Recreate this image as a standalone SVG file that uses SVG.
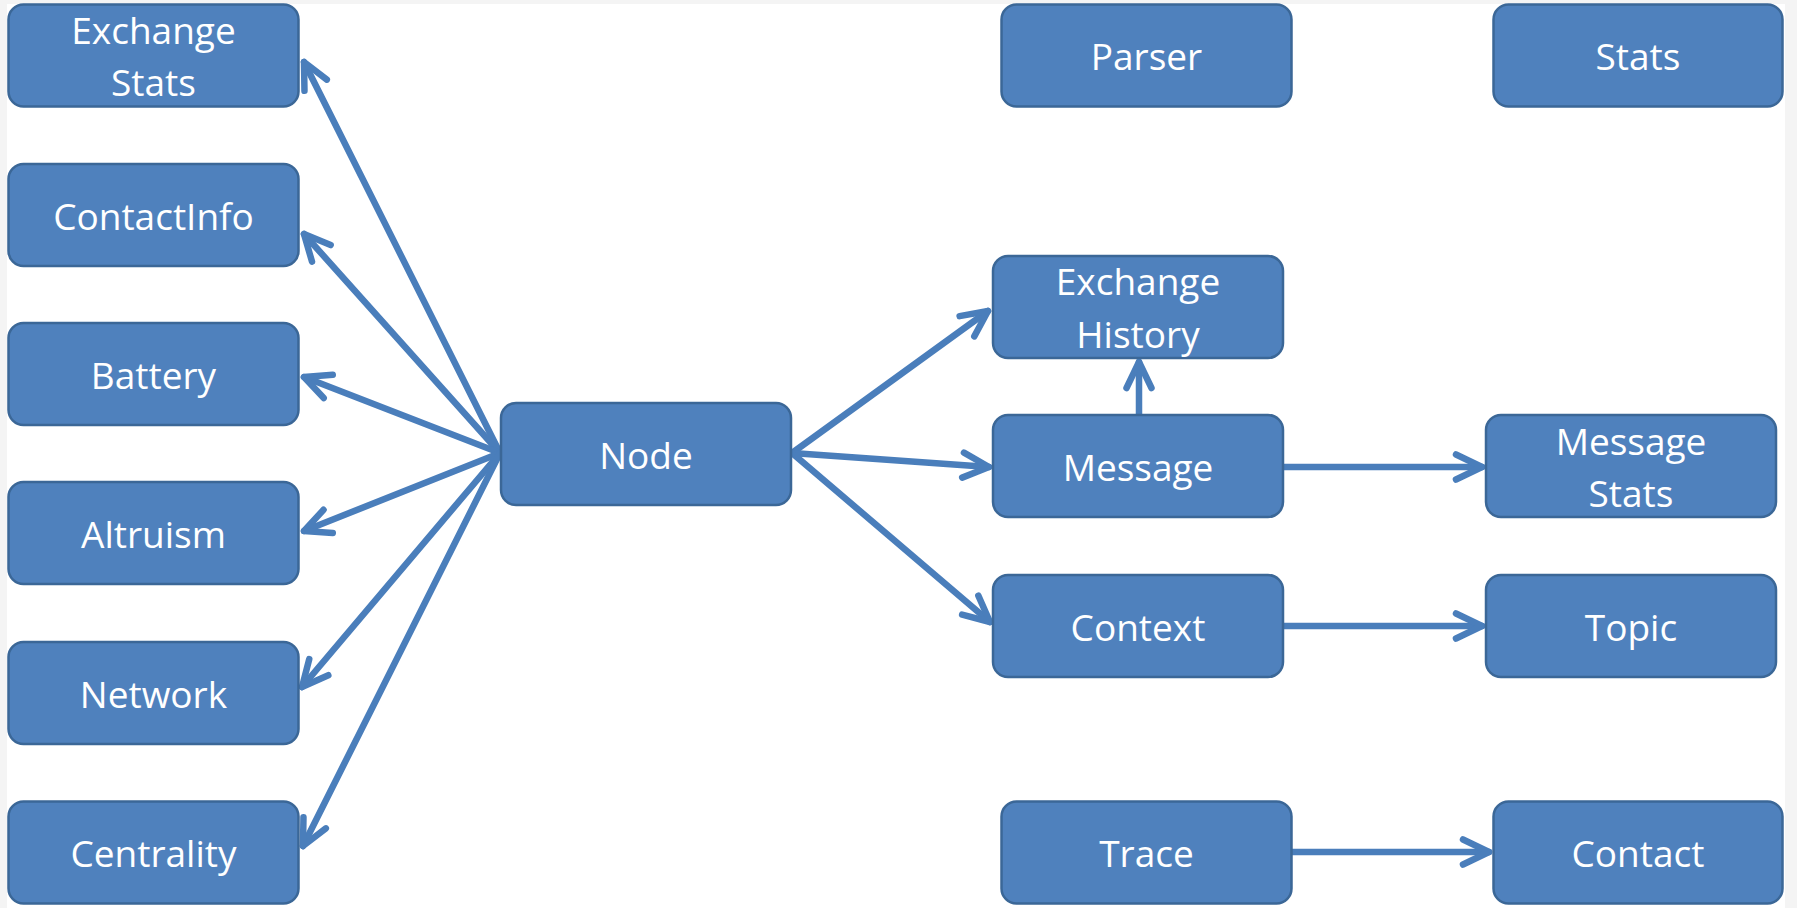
<svg xmlns="http://www.w3.org/2000/svg" width="1797" height="908" viewBox="0 0 1797 908">
  <style>
    .box rect { fill: #4f81bd; stroke: #3b6797; stroke-width: 2.5; }
    .box text { fill: #ffffff; font-family: "Open Sans", "Noto Sans", "Liberation Sans", sans-serif; font-size: 37px; text-anchor: middle; }
    .conn line { stroke: #4a7ebb; stroke-width: 6.5; stroke-linecap: round; marker-end: url(#arrow); }
  </style>
  <defs>
    <marker id="arrow" markerUnits="userSpaceOnUse" viewBox="-40 -20 50 40" refX="0" refY="0" markerWidth="50" markerHeight="40" orient="auto" overflow="visible">
      <path d="M -26 -12.5 L 0 0 L -26 12.5" fill="none" stroke="#4a7ebb" stroke-width="6.5" stroke-linecap="round" stroke-linejoin="round"/>
    </marker>
  </defs>

  <!-- page -->
  <rect x="0" y="0" width="1797" height="908" fill="#f4f4f4"/>
  <rect x="7" y="4" width="1778" height="904" fill="#ffffff"/>

  <!-- connectors -->
  <g id="connectors" class="conn">
    <line x1="500" y1="453" x2="304" y2="62"/>
    <line x1="500" y1="453" x2="304" y2="234"/>
    <line x1="500" y1="453" x2="304" y2="377"/>
    <line x1="500" y1="453" x2="304" y2="531"/>
    <line x1="500" y1="453" x2="302" y2="687"/>
    <line x1="500" y1="453" x2="303" y2="846"/>
    <line x1="792" y1="453" x2="988" y2="311"/>
    <line x1="792" y1="453" x2="989" y2="467"/>
    <line x1="792" y1="453" x2="990" y2="622"/>
    <line x1="1139" y1="415" x2="1139" y2="362"/>
    <line x1="1283" y1="467" x2="1482" y2="467"/>
    <line x1="1283" y1="626" x2="1482" y2="626"/>
    <line x1="1292" y1="852" x2="1489" y2="852"/>
  </g>

  <!-- nodes -->
  <g id="exchange-stats" class="box">
    <rect x="8.5" y="4.5" width="290" height="102" rx="15"/>
    <text x="153.5" y="44">Exchange</text>
    <text x="153.5" y="96">Stats</text>
  </g>
  <g id="contact-info" class="box">
    <rect x="8.5" y="164" width="290" height="102" rx="15"/>
    <text x="153.5" y="230">ContactInfo</text>
  </g>
  <g id="battery" class="box">
    <rect x="8.5" y="323" width="290" height="102" rx="15"/>
    <text x="153.5" y="389">Battery</text>
  </g>
  <g id="altruism" class="box">
    <rect x="8.5" y="482" width="290" height="102" rx="15"/>
    <text x="153.5" y="548">Altruism</text>
  </g>
  <g id="network" class="box">
    <rect x="8.5" y="642" width="290" height="102" rx="15"/>
    <text x="153.5" y="708">Network</text>
  </g>
  <g id="centrality" class="box">
    <rect x="8.5" y="801.5" width="290" height="102" rx="15"/>
    <text x="153.5" y="867">Centrality</text>
  </g>
  <g id="node" class="box">
    <rect x="501" y="403" width="290" height="102" rx="15"/>
    <text x="646" y="469">Node</text>
  </g>
  <g id="parser" class="box">
    <rect x="1001.5" y="4.5" width="290" height="102" rx="15"/>
    <text x="1146.5" y="70">Parser</text>
  </g>
  <g id="stats" class="box">
    <rect x="1493.5" y="4.5" width="289" height="102" rx="15"/>
    <text x="1638" y="70">Stats</text>
  </g>
  <g id="exchange-history" class="box">
    <rect x="993" y="256" width="290" height="102" rx="15"/>
    <text x="1138" y="295">Exchange</text>
    <text x="1138" y="348">History</text>
  </g>
  <g id="message" class="box">
    <rect x="993" y="415" width="290" height="102" rx="15"/>
    <text x="1138" y="481">Message</text>
  </g>
  <g id="message-stats" class="box">
    <rect x="1486" y="415" width="290" height="102" rx="15"/>
    <text x="1631" y="455">Message</text>
    <text x="1631" y="507">Stats</text>
  </g>
  <g id="context" class="box">
    <rect x="993" y="575" width="290" height="102" rx="15"/>
    <text x="1138" y="641">Context</text>
  </g>
  <g id="topic" class="box">
    <rect x="1486" y="575" width="290" height="102" rx="15"/>
    <text x="1631" y="641">Topic</text>
  </g>
  <g id="trace" class="box">
    <rect x="1001.5" y="801.5" width="290" height="102" rx="15"/>
    <text x="1146.5" y="867">Trace</text>
  </g>
  <g id="contact" class="box">
    <rect x="1493.5" y="801.5" width="289" height="102" rx="15"/>
    <text x="1638" y="867">Contact</text>
  </g>
</svg>
